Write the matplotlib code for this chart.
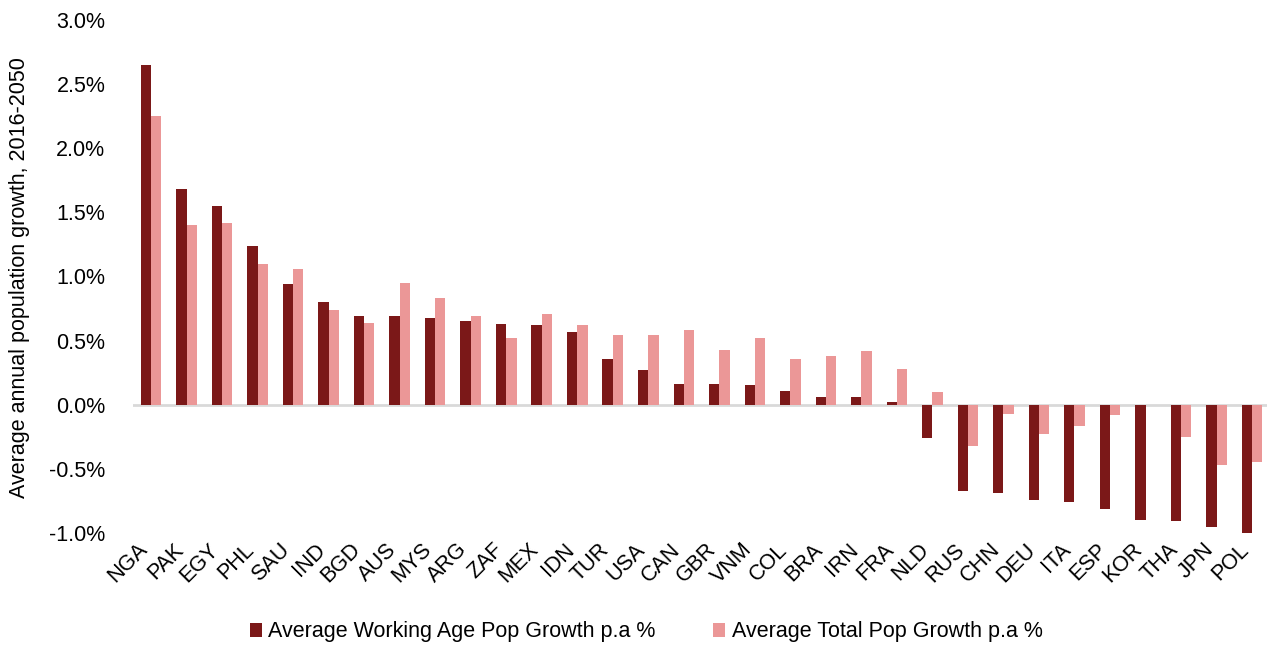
import matplotlib.pyplot as plt
import matplotlib.transforms as mtransforms
import numpy as np
from matplotlib.ticker import FuncFormatter

plt.rcParams['font.family'] = ['Liberation Sans', 'DejaVu Sans']

countries = ['NGA', 'PAK', 'EGY', 'PHL', 'SAU', 'IND', 'BGD', 'AUS', 'MYS', 'ARG',
             'ZAF', 'MEX', 'IDN', 'TUR', 'USA', 'CAN', 'GBR', 'VNM', 'COL', 'BRA',
             'IRN', 'FRA', 'NLD', 'RUS', 'CHN', 'DEU', 'ITA', 'ESP', 'KOR', 'THA',
             'JPN', 'POL']
working_age = [2.65, 1.68, 1.55, 1.24, 0.94, 0.80, 0.69, 0.69, 0.68, 0.65,
               0.63, 0.62, 0.57, 0.36, 0.27, 0.16, 0.16, 0.15, 0.11, 0.06,
               0.06, 0.02, -0.26, -0.67, -0.69, -0.74, -0.76, -0.81, -0.90, -0.91,
               -0.95, -1.01]
total = [2.25, 1.40, 1.42, 1.10, 1.06, 0.74, 0.64, 0.95, 0.83, 0.69,
         0.52, 0.71, 0.625, 0.54, 0.54, 0.58, 0.43, 0.52, 0.36, 0.38,
         0.42, 0.28, 0.10, -0.32, -0.075, -0.23, -0.165, -0.08, -0.005, -0.25,
         -0.47, -0.45]

dark = '#7b1818'
pink = '#eb9797'
fs = 15.5

fig = plt.figure(figsize=(12.67, 6.46), dpi=100)
ax = fig.add_axes([0.105, 0.175, 0.895, 0.794])

x = np.arange(len(countries))
w = 0.29
ax.bar(x - w / 2, working_age, w, color=dark, label='Average Working Age Pop Growth p.a %')
ax.bar(x + w / 2, total, w, color=pink, label='Average Total Pop Growth p.a %')

ax.set_ylim(-1.0, 3.0)
ax.set_yticks(np.arange(-1.0, 3.01, 0.5))
ax.yaxis.set_major_formatter(FuncFormatter(lambda v, p: f'{v:.1f}%'))
ax.set_xlim(-0.507, 31.42)
ax.axhline(0, color='#d9d9d9', linewidth=2, zorder=0)

for s in ax.spines.values():
    s.set_visible(False)
ax.tick_params(axis='both', length=0, labelsize=fs)
ax.tick_params(axis='y', pad=20)
ax.set_xticks(x)
ax.set_xticklabels(countries, rotation=45, ha='right', va='top', rotation_mode='anchor')
shift = mtransforms.ScaledTranslation(-10 / 72, -1 / 72, fig.dpi_scale_trans)
for lbl in ax.get_xticklabels():
    lbl.set_transform(lbl.get_transform() + shift)

fig.text(20 / 1267, 0.570, 'Average annual population growth, 2016-2050',
         rotation=90, ha='center', va='center', fontsize=fs)

fig.legend(loc='center', bbox_to_anchor=(0.510, 0.022), ncol=2, frameon=False,
           fontsize=fs, handlelength=0.55, handleheight=0.6, handletextpad=0.3,
           columnspacing=2.7)

fig.savefig('out.png', dpi=100)
